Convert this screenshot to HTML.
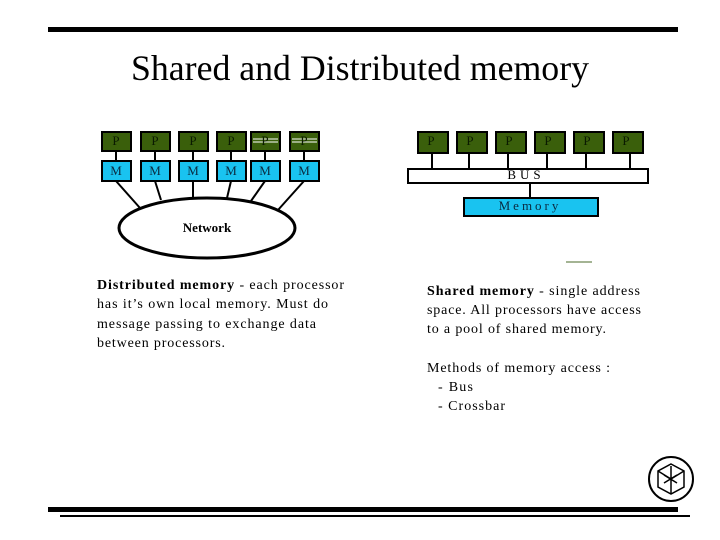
<!DOCTYPE html>
<html><head><meta charset="utf-8"><style>
body{margin:0;background:#fff;}
svg{display:block;font-family:"Liberation Serif",serif;}
</style></head><body>
<svg width="720" height="540" xmlns="http://www.w3.org/2000/svg">
<rect x="48" y="27" width="630" height="5" fill="#000"/>
<rect x="48" y="507" width="630" height="5" fill="#000"/>
<rect x="60" y="515" width="630" height="2" fill="#000"/>
<text x="131" y="80" font-size="36" textLength="458" lengthAdjust="spacingAndGlyphs">Shared and Distributed memory</text>
<g stroke="#000" stroke-width="2">
<line x1="116" y1="181" x2="140" y2="208"/><line x1="155" y1="181" x2="161" y2="200"/>
<line x1="193" y1="181" x2="193" y2="198"/><line x1="231" y1="181" x2="227" y2="198"/>
<line x1="265" y1="181" x2="251" y2="201"/><line x1="304" y1="181" x2="278" y2="210"/>
<ellipse cx="207" cy="228" rx="88" ry="30" fill="#fff" stroke-width="3"/>
</g>
<g stroke="#000" stroke-width="2">
<line x1="116" y1="151" x2="116" y2="161"/><line x1="155" y1="151" x2="155" y2="161"/><line x1="193" y1="151" x2="193" y2="161"/><line x1="231" y1="151" x2="231" y2="161"/><line x1="265" y1="151" x2="265" y2="161"/><line x1="304" y1="151" x2="304" y2="161"/>
<rect x="102" y="132" width="29" height="19" fill="#3a5f0b"/><rect x="141" y="132" width="29" height="19" fill="#3a5f0b"/><rect x="179" y="132" width="29" height="19" fill="#3a5f0b"/><rect x="217" y="132" width="29" height="19" fill="#3a5f0b"/><rect x="251" y="132" width="29" height="19" fill="#3a5f0b"/><rect x="290" y="132" width="29" height="19" fill="#3a5f0b"/>
<rect x="102" y="161" width="29" height="20" fill="#19c3f0"/><rect x="141" y="161" width="29" height="20" fill="#19c3f0"/><rect x="179" y="161" width="29" height="20" fill="#19c3f0"/><rect x="217" y="161" width="29" height="20" fill="#19c3f0"/><rect x="251" y="161" width="29" height="20" fill="#19c3f0"/><rect x="290" y="161" width="29" height="20" fill="#19c3f0"/>
</g>
<g stroke="#fff" stroke-width="1"><line x1="253" y1="139" x2="278" y2="139"/><line x1="253" y1="142" x2="278" y2="142"/><line x1="292" y1="139" x2="317" y2="139"/><line x1="292" y1="142" x2="317" y2="142"/></g>
<g font-size="13" text-anchor="middle" fill="#0a1a00">
<text x="116" y="145">P</text><text x="155" y="145">P</text><text x="193" y="145">P</text><text x="231" y="145">P</text><text x="265" y="145">P</text><text x="304" y="145">P</text>
</g>
<g font-size="13" text-anchor="middle" fill="#0a2a40">
<text x="116" y="175">M</text><text x="155" y="175">M</text><text x="193" y="175">M</text><text x="231" y="175">M</text><text x="265" y="175">M</text><text x="304" y="175">M</text>
</g>
<text x="207" y="232" font-size="13" font-weight="bold" text-anchor="middle">Network</text>
<g stroke="#000" stroke-width="2">
<line x1="432" y1="153" x2="432" y2="169"/><line x1="469" y1="153" x2="469" y2="169"/><line x1="508" y1="153" x2="508" y2="169"/><line x1="547" y1="153" x2="547" y2="169"/><line x1="586" y1="153" x2="586" y2="169"/><line x1="630" y1="153" x2="630" y2="169"/>
<line x1="530" y1="183" x2="530" y2="198"/>
<rect x="418" y="132" width="30" height="21" fill="#3a5f0b"/><rect x="457" y="132" width="30" height="21" fill="#3a5f0b"/><rect x="496" y="132" width="30" height="21" fill="#3a5f0b"/><rect x="535" y="132" width="30" height="21" fill="#3a5f0b"/><rect x="574" y="132" width="30" height="21" fill="#3a5f0b"/><rect x="613" y="132" width="30" height="21" fill="#3a5f0b"/>
<rect x="408" y="169" width="240" height="14" fill="#fff"/>
<rect x="464" y="198" width="134" height="18" fill="#19c3f0"/>
</g>
<line x1="566" y1="262" x2="592" y2="262" stroke="#4a6a2a" stroke-width="1"/>
<g font-size="13" text-anchor="middle">
<g fill="#0a1a00"><text x="431" y="145">P</text><text x="470" y="145">P</text><text x="509" y="145">P</text><text x="548" y="145">P</text><text x="587" y="145">P</text><text x="626" y="145">P</text></g>
<text x="526" y="179" letter-spacing="4">BUS</text>
<text x="530" y="210" letter-spacing="3" fill="#0a2a40">Memory</text>
</g>
<g font-size="14" lengthAdjust="spacingAndGlyphs">
<text x="97" y="289" textLength="247"><tspan font-weight="bold">Distributed memory</tspan> - each processor</text>
<text x="97" y="308" textLength="231">has it’s own local memory. Must do</text>
<text x="97" y="328" textLength="219">message passing to exchange data</text>
<text x="97" y="347" textLength="128">between processors.</text>
<text x="427" y="295" textLength="213"><tspan font-weight="bold">Shared memory</tspan> - single address</text>
<text x="427" y="314" textLength="214">space. All processors have access</text>
<text x="427" y="333" textLength="179">to a pool of shared memory.</text>
<text x="427" y="372" textLength="183">Methods of memory access :</text>
<text x="438" y="391" textLength="35">- Bus</text>
<text x="438" y="410" textLength="67">- Crossbar</text>
</g>
<circle cx="671" cy="479" r="22" fill="#fff" stroke="#000" stroke-width="2"/>
<g stroke="#000" stroke-width="1.5" fill="none">
<polygon points="671,464 684,471 684,487 671,494 658,487 658,471"/>
<path d="M658,471 L671,479 L684,471 M671,479 L671,494 M664,475 L677,483 M664,483 L677,475 M671,466 L671,479"/>
</g>
</svg>
</body></html>
